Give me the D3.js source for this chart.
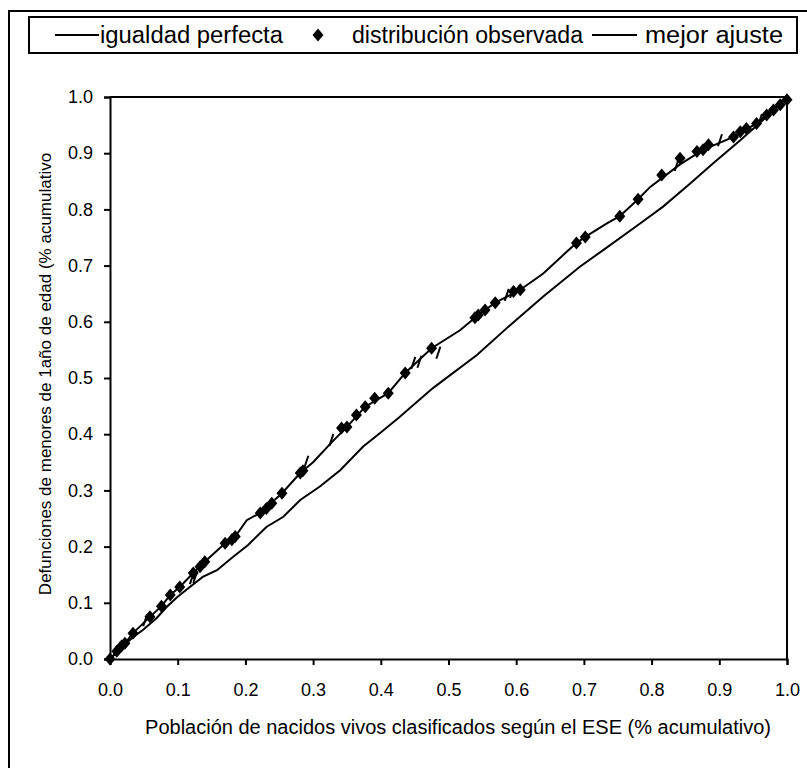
<!DOCTYPE html>
<html>
<head>
<meta charset="utf-8">
<script src="https://cdn.jsdelivr.net/npm/d3@7"></script>
<style>
  body { margin: 0; background: #fff; }
  svg { display: block; font-family: "Liberation Sans", Arial, sans-serif; }
</style>
</head>
<body>
<script>
const width = 807;
const height = 768;

// lower line: igualdad perfecta
const equalityX = [0, 0.034, 0.049, 0.069, 0.084, 0.099, 0.118, 0.137, 0.158, 0.182, 0.204, 0.231, 0.256, 0.281, 0.31, 0.34, 0.374, 0.399, 0.426, 0.477, 0.542, 0.591, 0.64, 0.694, 0.729, 0.783, 0.817, 0.857, 0.891, 0.931, 0.97, 1];
const equalityY = [0, 0.039, 0.052, 0.073, 0.093, 0.11, 0.128, 0.146, 0.158, 0.182, 0.203, 0.235, 0.253, 0.283, 0.307, 0.336, 0.378, 0.402, 0.429, 0.482, 0.541, 0.594, 0.645, 0.698, 0.728, 0.775, 0.805, 0.846, 0.882, 0.923, 0.965, 1];

// upper line: mejor ajuste
const fitX = [0, 0.022, 0.034, 0.059, 0.076, 0.089, 0.103, 0.123, 0.14, 0.17, 0.185, 0.202, 0.222, 0.254, 0.281, 0.3, 0.327, 0.35, 0.377, 0.411, 0.436, 0.475, 0.517, 0.544, 0.569, 0.606, 0.64, 0.675, 0.689, 0.702, 0.734, 0.753, 0.78, 0.798, 0.842, 0.876, 0.921, 0.955, 1];
const fitY = [0, 0.028, 0.046, 0.075, 0.094, 0.114, 0.128, 0.153, 0.173, 0.206, 0.218, 0.247, 0.26, 0.295, 0.331, 0.35, 0.385, 0.413, 0.449, 0.473, 0.509, 0.553, 0.585, 0.612, 0.634, 0.657, 0.686, 0.725, 0.74, 0.751, 0.775, 0.788, 0.818, 0.84, 0.88, 0.906, 0.929, 0.953, 1];

// distribución observada (diamonds)
const obsX = [0, 0.010, 0.017, 0.022, 0.034, 0.059, 0.076, 0.089, 0.103, 0.123, 0.133, 0.14, 0.170, 0.18, 0.185, 0.222, 0.231, 0.239, 0.254, 0.281, 0.285, 0.342, 0.35, 0.364, 0.377, 0.391, 0.411, 0.436, 0.475, 0.539, 0.544, 0.554, 0.569, 0.596, 0.606, 0.689, 0.702, 0.753, 0.78, 0.815, 0.842, 0.867, 0.876, 0.884, 0.921, 0.931, 0.94, 0.955, 0.97, 0.98, 0.99, 1.0];
const obsY = [0, 0.014, 0.023, 0.028, 0.046, 0.075, 0.094, 0.114, 0.128, 0.153, 0.164, 0.173, 0.206, 0.212, 0.218, 0.26, 0.268, 0.277, 0.295, 0.331, 0.335, 0.411, 0.413, 0.434, 0.449, 0.464, 0.473, 0.509, 0.553, 0.607, 0.612, 0.621, 0.634, 0.654, 0.657, 0.74, 0.751, 0.788, 0.818, 0.861, 0.891, 0.903, 0.906, 0.915, 0.929, 0.938, 0.944, 0.953, 0.968, 0.977, 0.986, 0.995];

// small slash marks along the fitted curve
const slashX = [0.052, 0.121, 0.126, 0.29, 0.327, 0.448, 0.457, 0.485, 0.586, 0.594, 0.837, 0.901, 0.96];
const slashY = [0.069, 0.144, 0.146, 0.351, 0.39, 0.527, 0.529, 0.545, 0.648, 0.653, 0.879, 0.923, 0.959];

const tickValues = [0, 0.1, 0.2, 0.3, 0.4, 0.5, 0.6, 0.7, 0.8, 0.9, 1.0];
const legendLabels = ['igualdad perfecta', 'distribución observada', 'mejor ajuste'];

const svg = d3.select('body').append('svg').attr('width', width).attr('height', height);

svg.append('rect').attr('width', width).attr('height', height).attr('fill', '#fff');

// outer frame
svg.append('rect')
  .attr('x', 9).attr('y', 11).attr('width', 800).attr('height', 780)
  .attr('fill', 'none').attr('stroke', '#000').attr('stroke-width', 2);

const x = d3.scaleLinear().domain([0, 1]).range([110, 787]);
const y = d3.scaleLinear().domain([0, 1]).range([659, 97]);

// plot box top / right
svg.append('path')
  .attr('d', `M${x(0)},${y(1)}H${x(1)}V${y(0)}`)
  .attr('fill', 'none').attr('stroke', '#000').attr('stroke-width', 2);

const xAxis = svg.append('g')
  .attr('transform', `translate(0,${y(0)})`)
  .call(d3.axisBottom(x).tickValues(tickValues).tickSize(6).tickPadding(18).tickFormat(d3.format('.1f')));
const yAxis = svg.append('g')
  .attr('transform', `translate(${x(0)},0)`)
  .call(d3.axisLeft(y).tickValues(tickValues).tickSize(6).tickPadding(11).tickFormat(d3.format('.1f')));

[xAxis, yAxis].forEach(function (g) {
  g.select('.domain').attr('stroke-width', 2);
  g.selectAll('.tick line').attr('stroke-width', 2);
  g.selectAll('.tick text').attr('font-size', 18).attr('font-family', '"Liberation Sans", Arial, sans-serif').attr('fill', '#000');
});

svg.append('text')
  .attr('x', 458).attr('y', 734)
  .attr('text-anchor', 'middle')
  .attr('font-size', 20)
  .text('Población de nacidos vivos clasificados según el ESE (% acumulativo)');

svg.append('text')
  .attr('transform', 'translate(51,374) rotate(-90)')
  .attr('text-anchor', 'middle')
  .attr('font-size', 17)
  .text('Defunciones de menores de 1año de edad (% acumulativo');

const line = d3.line().x((d) => x(d[0])).y((d) => y(d[1]));

svg.append('path')
  .datum(d3.zip(equalityX, equalityY))
  .attr('d', line)
  .attr('fill', 'none').attr('stroke', '#000').attr('stroke-width', 2);

svg.append('path')
  .datum(d3.zip(fitX, fitY))
  .attr('d', line)
  .attr('fill', 'none').attr('stroke', '#000').attr('stroke-width', 2);

svg.selectAll('.slash')
  .data(d3.zip(slashX, slashY))
  .enter()
  .append('line')
  .attr('class', 'slash')
  .attr('x1', (d) => x(d[0]) - 2)
  .attr('y1', (d) => y(d[1]) + 6)
  .attr('x2', (d) => x(d[0]) + 2)
  .attr('y2', (d) => y(d[1]) - 6)
  .attr('stroke', '#000').attr('stroke-width', 2);

const diamond = 'M0,-6.5L5.5,0L0,6.5L-5.5,0Z';

svg.selectAll('.point')
  .data(d3.zip(obsX, obsY))
  .enter()
  .append('path')
  .attr('class', 'point')
  .attr('d', diamond)
  .attr('transform', (d) => `translate(${x(d[0])},${y(d[1])})`)
  .attr('fill', '#000');

// legend
const legend = svg.append('g').attr('font-size', 23.5);
legend.append('rect')
  .attr('x', 29).attr('y', 17).attr('width', 768).attr('height', 36)
  .attr('fill', '#fff').attr('stroke', '#000').attr('stroke-width', 2);
legend.append('line').attr('x1', 55).attr('x2', 99).attr('y1', 35).attr('y2', 35)
  .attr('stroke', '#000').attr('stroke-width', 2);
legend.append('text').attr('x', 100).attr('y', 43)
  .attr('textLength', 183).attr('lengthAdjust', 'spacingAndGlyphs').text(legendLabels[0]);
legend.append('path').attr('d', diamond).attr('transform', 'translate(318,35)').attr('fill', '#000');
legend.append('text').attr('x', 352).attr('y', 43)
  .attr('textLength', 231).attr('lengthAdjust', 'spacingAndGlyphs').text(legendLabels[1]);
legend.append('line').attr('x1', 592).attr('x2', 637).attr('y1', 35).attr('y2', 35)
  .attr('stroke', '#000').attr('stroke-width', 2);
legend.append('text').attr('x', 645).attr('y', 43)
  .attr('textLength', 138).attr('lengthAdjust', 'spacingAndGlyphs').text(legendLabels[2]);
</script>
</body>
</html>
